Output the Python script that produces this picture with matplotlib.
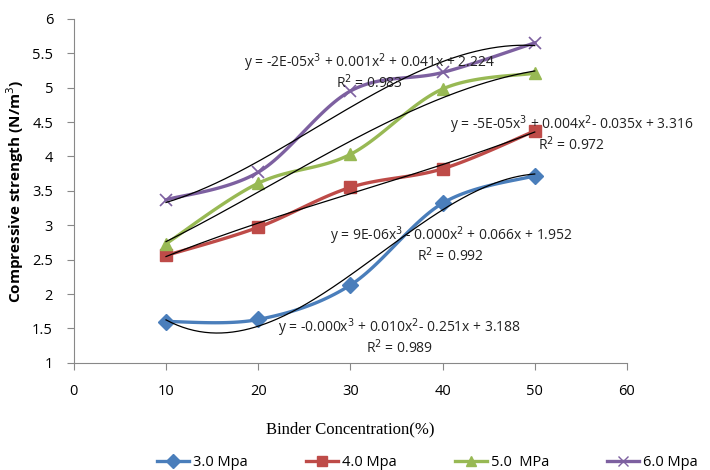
import numpy as np
import matplotlib.pyplot as plt

# binder concentration (%)
conc = [10, 20, 30, 40, 50]

# compressive strength for each compaction pressure
s30 = [1.60, 1.63, 2.13, 3.32, 3.72]
s40 = [2.56, 2.97, 3.55, 3.82, 4.37]
s50 = [2.73, 3.61, 4.03, 4.98, 5.21]
s60 = [3.37, 3.77, 4.95, 5.22, 5.65]

labels = ["3.0 Mpa", "4.0 Mpa", "5.0  MPa", "6.0 Mpa"]
colors = ["#4A7EBB", "#BE4B48", "#98B954", "#7D60A0"]
markers = ["D", "s", "^", "x"]

equations = [
    "y = -0.000x$^3$ + 0.010x$^2$- 0.251x + 3.188",
    "y = 9E-06x$^3$ - 0.000x$^2$ + 0.066x + 1.952",
    "y = -5E-05x$^3$ + 0.004x$^2$- 0.035x + 3.316",
    "y = -2E-05x$^3$ + 0.001x$^2$ + 0.041x + 2.224",
]
r2_texts = ["R$^2$ = 0.989", "R$^2$ = 0.992", "R$^2$ = 0.972", "R$^2$ = 0.983"]


def smooth(x, y, n=30):
    # Bezier smoothing like a spreadsheet "smoothed line"
    x = np.asarray(x, float)
    y = np.asarray(y, float)
    px = np.concatenate([[x[0]], x, [x[-1]]])
    py = np.concatenate([[y[0]], y, [y[-1]]])
    xs, ys = [], []
    t = np.linspace(0, 1, n)
    for i in range(1, len(px) - 2):
        p0 = np.array([px[i], py[i]])
        p3 = np.array([px[i + 1], py[i + 1]])
        p1 = p0 + (p3 - np.array([px[i - 1], py[i - 1]])) / 6
        p2 = p3 - (np.array([px[i + 2], py[i + 2]]) - p0) / 6
        b = (np.outer((1 - t) ** 3, p0) + np.outer(3 * (1 - t) ** 2 * t, p1)
             + np.outer(3 * (1 - t) * t ** 2, p2) + np.outer(t ** 3, p3))
        xs.extend(b[:, 0])
        ys.extend(b[:, 1])
    return xs, ys


fig = plt.figure(figsize=(7.1, 4.7), dpi=100)
ax = fig.add_axes([0.104, 0.228, 0.779, 0.732])

series = [s30, s40, s50, s60]
for vals, c, m, lab in zip(series, colors, markers, labels):
    sx, sy = smooth(conc, vals)
    ax.plot(sx, sy, color=c, lw=2.4, zorder=2)
    ax.plot(conc, vals, ls="none", marker=m, color=c, ms=8 if m != "x" else 9,
            mew=1.2 if m == "x" else 1, zorder=3)
    ax.plot([], [], color=c, lw=2.4, marker=m, ms=7, label=lab)

# cubic trend lines
xf = np.linspace(10, 50, 200)
for vals in series:
    coef = np.polyfit(conc, vals, 3)
    ax.plot(xf, np.polyval(coef, xf), color="black", lw=0.9, zorder=4)

# trend line equations
eq_pos = [(35.3, 1.51), (40.9, 2.85), (54.0, 4.46), (32.1, 5.36)]
for (ex, ey), eq, r2 in zip(eq_pos, equations, r2_texts):
    ax.text(ex, ey, eq, ha="center", va="center", fontsize=10,
            family="Open Sans", color="#222222", zorder=5)
    ax.text(ex, ey - 0.29, r2, ha="center", va="center", fontsize=10,
            family="Open Sans", color="#222222", zorder=5)

ax.set_xlim(0, 60)
ax.set_ylim(1, 6)
ax.set_xticks(range(0, 61, 10))
ax.set_yticks(np.arange(1, 6.01, 0.5))
ax.set_yticklabels(["1", "1.5", "2", "2.5", "3", "3.5", "4", "4.5", "5", "5.5", "6"])
for lbl in ax.get_xticklabels() + ax.get_yticklabels():
    lbl.set_family("Open Sans")
    lbl.set_fontsize(10.5)
ax.tick_params(direction="out", length=5, color="#888888", pad=10)
for side in ["top", "right"]:
    ax.spines[side].set_visible(False)
for side in ["left", "bottom"]:
    ax.spines[side].set_color("#888888")

ax.set_xlabel("Binder Concentration(%)", family="Liberation Serif", fontsize=12, labelpad=16)
ax.set_ylabel("Compressive strength (N/m$^3$)", family="Open Sans", fontsize=11,
              fontweight="bold", labelpad=4)

fig.legend(loc="center", bbox_to_anchor=(0.602, 0.015), ncol=4, frameon=False,
           handlelength=2.2, handletextpad=0.25, columnspacing=4.0,
           prop={"family": "Open Sans", "size": 10.5})

fig.savefig("out.png", dpi=100)
